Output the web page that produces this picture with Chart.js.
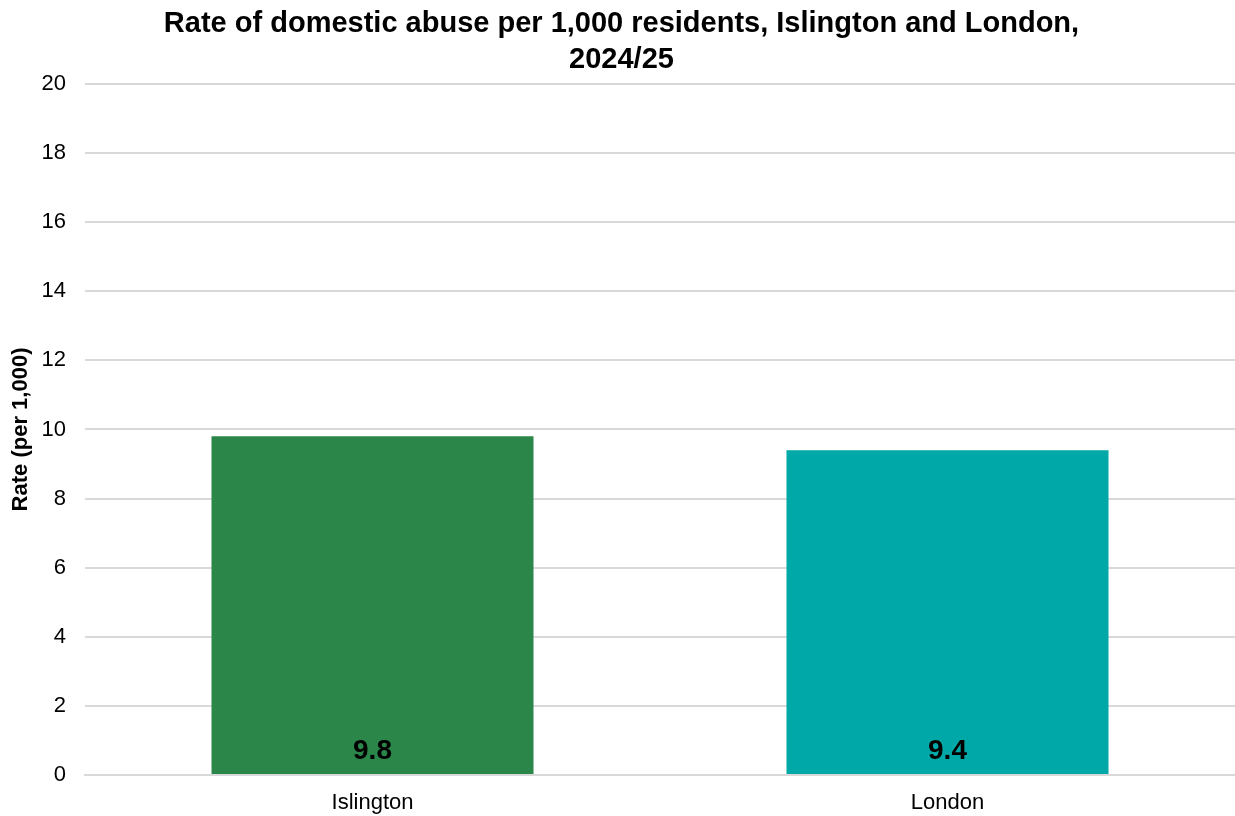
<!DOCTYPE html>
<html>
<head>
<meta charset="utf-8">
<script src="https://cdn.jsdelivr.net/npm/chart.js@4"></script>
<style>
  html, body { margin: 0; padding: 0; background: #fff; }
  #wrap { width: 1235px; height: 816px; position: relative; }
</style>
</head>
<body>
<div id="wrap"><canvas id="myChart"></canvas></div>
<script>
const areas = ['Islington', 'London'];
const rates = [9.8, 9.4];
const barColours = ['#2A8749', '#00A8A8'];
const yTicks = [0, 2, 4, 6, 8, 10, 12, 14, 16, 18, 20];

const fontFam = '"Liberation Sans", Arial, sans-serif';

// value labels sit at the foot of each bar
const bottomLabels = {
  id: 'bottomLabels',
  afterDatasetsDraw(chart) {
    const ctx = chart.ctx;
    const meta = chart.getDatasetMeta(0);
    const yScale = chart.scales.y;
    ctx.save();
    ctx.font = 'bold 28px ' + fontFam;
    ctx.fillStyle = '#000';
    ctx.textAlign = 'center';
    ctx.textBaseline = 'middle';
    meta.data.forEach((bar, i) => {
      ctx.fillText(rates[i].toFixed(1), bar.x, yScale.getPixelForValue(0) - 24);
    });
    ctx.restore();
  }
};

new Chart(document.getElementById('myChart'), {
  type: 'bar',
  data: {
    labels: areas,
    datasets: [{
      data: rates,
      backgroundColor: barColours,
      borderWidth: 0,
      categoryPercentage: 1,
      barPercentage: 0.56
    }]
  },
  options: {
    responsive: true,
    maintainAspectRatio: false,
    animation: false,
    layout: { padding: { left: 8, right: 0, top: 6, bottom: 0 } },
    plugins: {
      legend: { display: false },
      tooltip: { enabled: false },
      title: {
        display: true,
        text: ['Rate of domestic abuse per 1,000 residents, Islington and London,', '2024/25'],
        color: '#000',
        font: { family: fontFam, size: 29, weight: 'bold', lineHeight: 1.24 },
        padding: { top: 0, bottom: 6 }
      }
    },
    scales: {
      x: {
        afterFit: s => { s.height = 41; },
        grid: { display: false, drawTicks: false },
        border: { display: true, color: '#d9d9d9', width: 2 },
        ticks: {
          color: '#000',
          font: { family: fontFam, size: 22 },
          padding: 15
        }
      },
      y: {
        min: 0,
        max: 20,
        afterFit: s => { s.width = 77; },
        afterBuildTicks: axis => { axis.ticks = yTicks.map(v => ({ value: v })); },
        grid: { color: '#d9d9d9', lineWidth: 2, drawTicks: false },
        border: { display: false },
        ticks: {
          color: '#000',
          font: { family: fontFam, size: 22 },
          padding: 19
        },
        title: {
          display: true,
          text: 'Rate (per 1,000)',
          color: '#000',
          font: { family: fontFam, size: 22, weight: 'bold' },
          padding: { top: 0, bottom: 4 }
        }
      }
    }
  },
  plugins: [bottomLabels]
});
</script>
</body>
</html>
